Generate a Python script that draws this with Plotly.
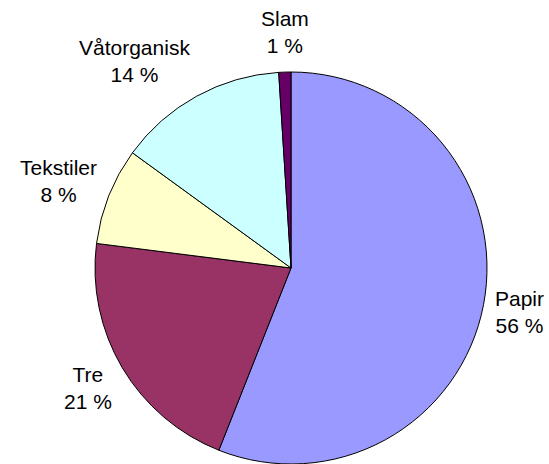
import math
import plotly.graph_objects as go

# waste composition (percent)
labels = ["Papir", "Tre", "Tekstiler", "Våtorganisk", "Slam"]
values = [56, 21, 8, 14, 1]
colors = ["#9999FF", "#993366", "#FFFFCC", "#CCFFFF", "#660066"]

W, H = 549, 464
cx, cy, r = 291, 268, 196   # pie centre / radius in px
gap = 10
half_h = 30  # approx half height of a two-line label

fig = go.Figure(go.Pie(
    labels=labels, values=values, sort=False, direction="clockwise",
    rotation=0, textinfo="none", hoverinfo="label+percent",
    marker=dict(colors=colors, line=dict(color="black", width=1)),
    domain=dict(x=[(cx - r) / W, (cx + r) / W], y=[(H - cy - r) / H, (H - cy + r) / H]),
    showlegend=False,
))

# Excel-style labels outside each slice
total = sum(values)
cum = 0
for name, v in zip(labels, values):
    mid = (cum + v / 2) / total * 2 * math.pi
    cum += v
    s, c = math.sin(mid), math.cos(mid)
    px = cx + (r + gap) * s
    py = cy - (r + gap) * c - c * half_h
    xa = "left" if s > 0.3 else ("right" if s < -0.3 else "center")
    fig.add_annotation(
        x=px / W, y=1 - py / H, xref="paper", yref="paper",
        text=f"{name}<br>{v} %", showarrow=False,
        xanchor=xa, yanchor="middle", align="center",
        font=dict(family="Liberation Sans, Arial", size=21, color="black"),
    )

fig.update_layout(
    width=W, height=H, margin=dict(l=0, r=0, t=0, b=0),
    paper_bgcolor="white", plot_bgcolor="white",
)

fig.write_html("out.html", config={"displayModeBar": False},
               post_script="document.body.style.margin='0';document.body.style.overflow='hidden';")
